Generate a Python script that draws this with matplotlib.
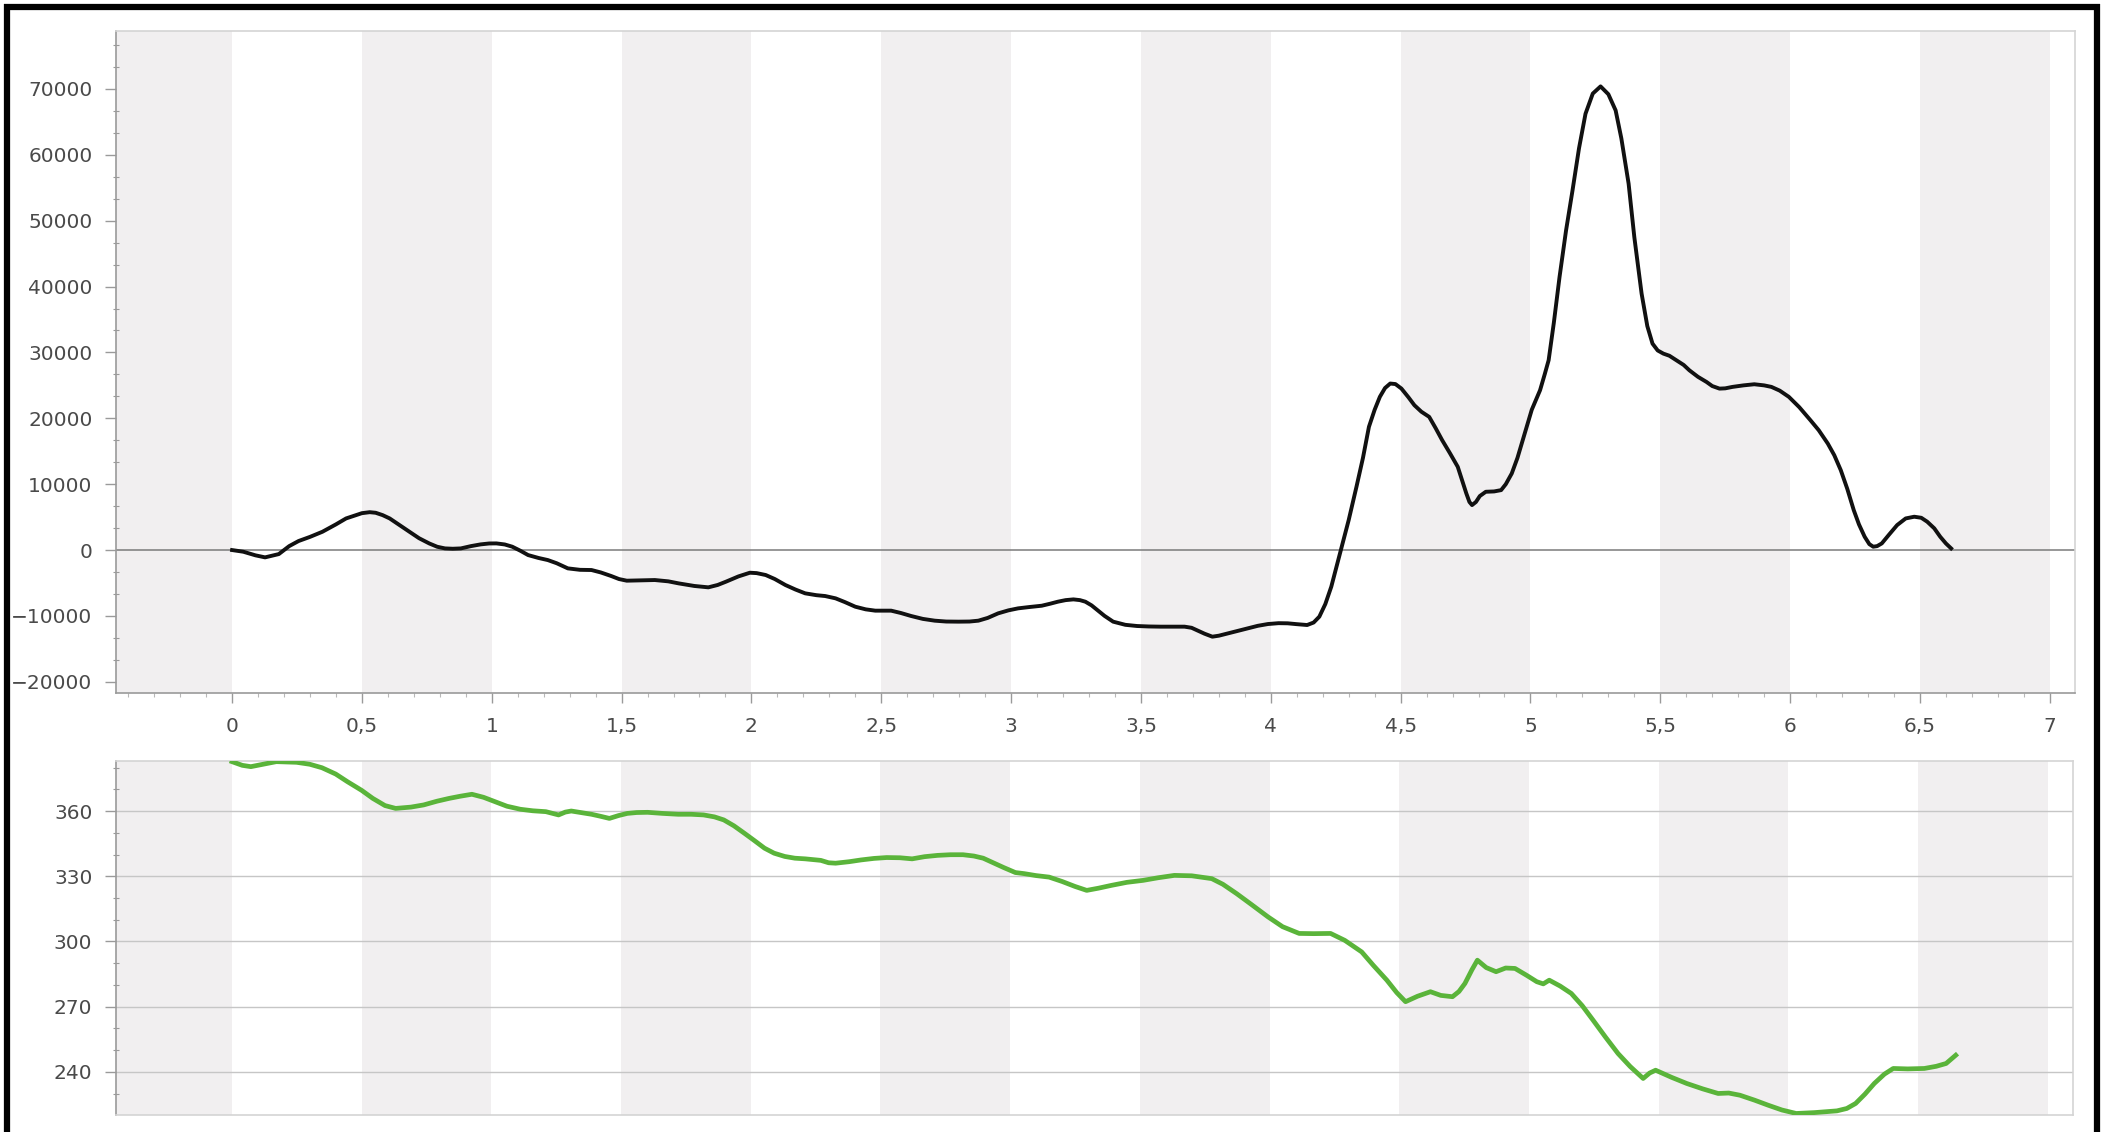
import matplotlib
matplotlib.use("Agg")
import matplotlib.pyplot as plt
from matplotlib.ticker import MultipleLocator, FuncFormatter
from matplotlib.lines import Line2D

# ---------------- data ----------------
top_x = [0.0, 0.043, 0.09, 0.127, 0.18, 0.22, 0.256, 0.30, 0.348, 0.40, 0.439, 0.50, 0.53, 0.553,
         0.58, 0.607, 0.645, 0.683, 0.72, 0.759, 0.79, 0.82, 0.85, 0.881, 0.92, 0.957, 0.99, 1.018,
         1.05, 1.079, 1.11, 1.14, 1.18, 1.216, 1.25, 1.293, 1.34, 1.384, 1.42, 1.46, 1.49, 1.52,
         1.57, 1.628, 1.68, 1.72, 1.78, 1.834, 1.87, 1.902, 1.95, 1.994, 2.02, 2.055, 2.09, 2.131,
         2.17, 2.207, 2.25, 2.284, 2.324, 2.36, 2.40, 2.44, 2.477, 2.538, 2.575, 2.615, 2.66, 2.706,
         2.75, 2.798, 2.84, 2.874, 2.91, 2.95, 2.99, 3.027, 3.07, 3.118, 3.15, 3.18, 3.21, 3.24,
         3.265, 3.286, 3.31, 3.332, 3.36, 3.393, 3.44, 3.485, 3.53, 3.576, 3.62, 3.668, 3.695, 3.714,
         3.745, 3.775, 3.80, 3.836, 3.875, 3.912, 3.95, 3.989, 4.03, 4.065, 4.10, 4.14, 4.165, 4.187,
         4.21, 4.233, 4.25, 4.27, 4.30, 4.33, 4.355, 4.378, 4.40, 4.42, 4.44, 4.46, 4.48, 4.503,
         4.53, 4.553, 4.58, 4.61, 4.635, 4.66, 4.69, 4.72, 4.74, 4.753, 4.765, 4.775, 4.79, 4.805,
         4.828, 4.86, 4.887, 4.905, 4.928, 4.95, 4.978, 5.005, 5.037, 5.055, 5.07, 5.09, 5.112, 5.137,
         5.162, 5.187, 5.212, 5.24, 5.27, 5.30, 5.328, 5.35, 5.378, 5.40, 5.428, 5.45, 5.47, 5.49,
         5.512, 5.535, 5.562, 5.59, 5.612, 5.645, 5.678, 5.70, 5.728, 5.75, 5.778, 5.82, 5.862, 5.90,
         5.928, 5.96, 5.995, 6.035, 6.078, 6.11, 6.145, 6.17, 6.195, 6.22, 6.245, 6.265, 6.287, 6.305,
         6.32, 6.335, 6.353, 6.38, 6.412, 6.445, 6.478, 6.505, 6.528, 6.555, 6.578, 6.60, 6.62]
top_y = [0, -250, -800, -1110, -610, 600, 1370, 2000, 2780, 3900, 4800, 5600, 5750, 5660,
         5300, 4800, 3800, 2780, 1800, 1010, 500, 250, 200, 250, 600, 860, 1000, 1010,
         850, 510, -100, -760, -1200, -1520, -2000, -2780, -3000, -3030, -3400, -3940, -4400, -4650,
         -4600, -4550, -4750, -5060, -5450, -5660, -5300, -4800, -4000, -3440, -3500, -3790, -4400, -5310,
         -6000, -6570, -6850, -6980, -7330, -7900, -8600, -9000, -9200, -9200, -9550, -10010, -10450, -10720,
         -10850, -10870, -10850, -10720, -10300, -9610, -9150, -8850, -8650, -8450, -8150, -7840, -7600, -7490,
         -7600, -7840, -8400, -9100, -10000, -10870, -11350, -11530, -11600, -11630, -11630, -11630, -11800, -12140,
         -12700, -13150, -13000, -12640, -12250, -11880, -11500, -11230, -11100, -11120, -11250, -11380, -11000, -10110,
         -8200, -5560, -3000, 0, 4550, 9610, 14000, 18710, 21300, 23260, 24600, 25280, 25200, 24520,
         23200, 21990, 21000, 20220, 18500, 16680, 14700, 12640, 10200, 8600, 7300, 6830, 7300, 8200,
         8850, 8900, 9100, 10000, 11630, 14000, 17700, 21300, 24270, 26700, 28820, 34500, 41460, 48500,
         54610, 61000, 66240, 69300, 70390, 69200, 66750, 62500, 55620, 47500, 38930, 34000, 31340, 30300,
         29820, 29500, 28810, 28100, 27290, 26300, 25520, 24900, 24510, 24550, 24770, 25000, 25170, 25000,
         24770, 24200, 23260, 21700, 19720, 18200, 16170, 14400, 12130, 9300, 6060, 3900, 2020, 900,
         510, 600, 1010, 2300, 3790, 4800, 5060, 4900, 4300, 3300, 2020, 1000, 250]

bottom_x = [0.0, 0.04, 0.073, 0.12, 0.171, 0.249, 0.30, 0.347, 0.40, 0.445, 0.50, 0.543, 0.59, 0.631,
            0.69, 0.739, 0.79, 0.837, 0.88, 0.925, 0.97, 1.014, 1.06, 1.112, 1.16, 1.21, 1.259, 1.285,
            1.308, 1.35, 1.386, 1.42, 1.455, 1.49, 1.524, 1.56, 1.602, 1.66, 1.72, 1.77, 1.818, 1.86,
            1.896, 1.935, 1.975, 2.015, 2.053, 2.09, 2.131, 2.17, 2.21, 2.27, 2.30, 2.327, 2.38, 2.425,
            2.475, 2.524, 2.575, 2.622, 2.67, 2.72, 2.77, 2.818, 2.86, 2.896, 2.935, 2.975, 3.02, 3.054,
            3.10, 3.15, 3.20, 3.25, 3.295, 3.34, 3.39, 3.45, 3.512, 3.57, 3.633, 3.70, 3.777, 3.82,
            3.873, 3.93, 3.994, 4.05, 4.114, 4.17, 4.235, 4.29, 4.355, 4.40, 4.452, 4.49, 4.524, 4.57,
            4.62, 4.66, 4.705, 4.73, 4.753, 4.78, 4.801, 4.835, 4.873, 4.91, 4.946, 4.99, 5.03, 5.055,
            5.078, 5.12, 5.163, 5.205, 5.247, 5.295, 5.343, 5.39, 5.44, 5.465, 5.488, 5.55, 5.608, 5.67,
            5.729, 5.77, 5.813, 5.87, 5.922, 5.975, 6.03, 6.10, 6.187, 6.225, 6.259, 6.295, 6.331, 6.37,
            6.404, 6.46, 6.524, 6.57, 6.608, 6.645]
bottom_y = [382.7, 381.0, 380.4, 381.5, 382.7, 382.4, 381.5, 379.9, 377.0, 373.5, 369.5, 365.8, 362.5, 361.2,
            361.8, 362.8, 364.5, 365.8, 366.8, 367.7, 366.3, 364.3, 362.2, 360.8, 360.1, 359.7, 358.2, 359.5,
            360.0, 359.2, 358.5, 357.6, 356.6, 357.9, 358.9, 359.3, 359.4, 358.9, 358.5, 358.5, 358.2, 357.3,
            355.9, 353.2, 349.8, 346.3, 342.9, 340.6, 339.1, 338.3, 338.0, 337.3, 336.2, 336.0, 336.7, 337.5,
            338.2, 338.6, 338.5, 338.0, 339.0, 339.6, 339.9, 339.9, 339.3, 338.3, 336.2, 334.0, 331.7, 331.2,
            330.3, 329.6, 327.6, 325.3, 323.5, 324.5, 325.8, 327.2, 328.1, 329.3, 330.4, 330.2, 328.9, 326.3,
            322.0, 317.0, 311.3, 306.8, 303.7, 303.6, 303.7, 300.5, 295.2, 289.0, 282.2, 276.5, 272.3, 274.8,
            276.9, 275.2, 274.6, 277.0, 280.7, 287.0, 291.4, 288.0, 286.1, 287.8, 287.6, 284.5, 281.5, 280.5,
            282.2, 279.5, 276.1, 270.5, 263.8, 256.0, 248.5, 242.5, 237.0, 239.5, 240.8, 237.5, 234.7, 232.2,
            230.1, 230.3, 229.3, 227.0, 224.7, 222.5, 220.9, 221.3, 222.1, 223.2, 225.5, 229.8, 234.7, 239.0,
            241.6, 241.4, 241.6, 242.6, 243.9, 247.7]

x_ticks = [0, 0.5, 1, 1.5, 2, 2.5, 3, 3.5, 4, 4.5, 5, 5.5, 6, 6.5, 7]
top_yticks = [-20000, -10000, 0, 10000, 20000, 30000, 40000, 50000, 60000, 70000]
bottom_yticks = [240, 270, 300, 330, 360]

# ---------------- style ----------------
plt.rcParams['font.family'] = ['DejaVu Sans']
W, H = 2105, 1132
fig = plt.figure(figsize=(W / 100, H / 100), dpi=100)
fig.patch.set_facecolor('white')

XLIM = (-0.447, 7.097)
BAND = '#f1eff0'
TXT = '#4a4a4a'
SPINE = '#9a9a9a'
LIGHT = '#d4d4d4'
FS = 14.5

def fx(px):
    return px / W

def fy(py):
    return 1 - py / H

ax1 = fig.add_axes([fx(116), fy(693), fx(2075) - fx(116), fy(31) - fy(693)])
ax2 = fig.add_axes([fx(116), fy(1115), fx(2073) - fx(116), fy(761) - fy(1115)])

def comma(v, pos):
    s = ('%g' % v)
    return s.replace('.', ',')

for ax in (ax1, ax2):
    ax.set_xlim(*XLIM)
    ax.set_facecolor('white')
    # alternating bands
    for k in range(0, 8):
        ax.axvspan(k - 0.5, k, color=BAND, lw=0, zorder=0)
    for side in ('top', 'right'):
        ax.spines[side].set_color(LIGHT)
        ax.spines[side].set_linewidth(1.2)
    ax.spines['left'].set_color(SPINE)
    ax.spines['left'].set_linewidth(1.2)
    ax.tick_params(axis='y', which='major', direction='out', length=8, width=1.0,
                   color=SPINE, labelcolor=TXT, labelsize=FS, pad=9)
    ax.tick_params(axis='y', which='minor', direction='inout', length=4, width=0.8, color=SPINE)

# top panel
ax1.set_ylim(-21700, 78800)
ax1.axhline(0, color='#7a7a7a', lw=1.1, zorder=1)
ax1.plot(top_x, top_y, color='#111111', lw=2.8, zorder=3, solid_joinstyle='round')
ax1.set_yticks(top_yticks)
ax1.yaxis.set_minor_locator(MultipleLocator(10000 / 3))
ax1.set_xticks(x_ticks)
ax1.xaxis.set_major_formatter(FuncFormatter(comma))
ax1.xaxis.set_minor_locator(MultipleLocator(0.1))
ax1.spines['bottom'].set_color(SPINE)
ax1.spines['bottom'].set_linewidth(1.2)
ax1.tick_params(axis='x', which='major', direction='out', length=7, width=1.0,
                color=SPINE, labelcolor=TXT, labelsize=FS, pad=10)
ax1.tick_params(axis='x', which='minor', direction='out', length=3, width=0.8, color='#b8b8b8')

# bottom panel
ax2.set_ylim(220.2, 383)
ax2.set_yticks(bottom_yticks)
ax2.yaxis.set_minor_locator(MultipleLocator(10))
ax2.grid(axis='y', which='major', color='#c6c6c6', lw=1.0, zorder=1)
ax2.set_axisbelow(True)
ax2.plot(bottom_x, bottom_y, color='#5ab43a', lw=3.4, zorder=3, solid_joinstyle='round')
ax2.spines['bottom'].set_color(LIGHT)
ax2.spines['bottom'].set_linewidth(1.2)
ax2.set_xticks([])

# outer black frame (left, top, right)
frame_kw = dict(color='black', lw=4.5, transform=fig.transFigure, solid_capstyle='butt')
fig.add_artist(Line2D([fx(7), fx(7)], [0, fy(4)], **frame_kw))
fig.add_artist(Line2D([fx(4), fx(2100)], [fy(7), fy(7)], **frame_kw))
fig.add_artist(Line2D([fx(2097), fx(2097)], [0, fy(4)], **frame_kw))

fig.savefig('out.png', dpi=100, facecolor='white')
